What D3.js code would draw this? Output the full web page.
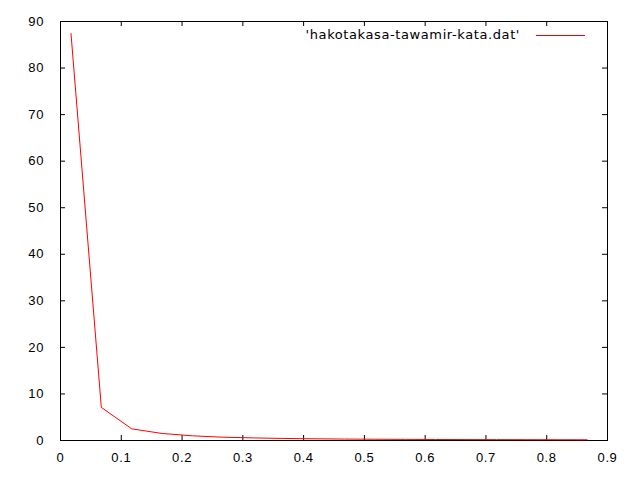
<!DOCTYPE html>
<html>
<head>
<meta charset="utf-8">
<script src="https://cdn.jsdelivr.net/npm/d3@7"></script>
<style>
  body { margin: 0; background: #fff; }
  svg { display: block; font-family: "DejaVu Sans", sans-serif; }
</style>
</head>
<body>
<svg id="svg"></svg>
<script>
// data
let xValues = [0.018, 0.068, 0.118, 0.168, 0.218, 0.268, 0.318, 0.368, 0.418,
               0.468, 0.518, 0.568, 0.618, 0.668, 0.718, 0.768, 0.818, 0.868]
let yValues = [87.4, 7.0, 2.4, 1.4, 0.9, 0.6, 0.45, 0.33, 0.26,
               0.2, 0.16, 0.13, 0.11, 0.09, 0.08, 0.07, 0.06, 0.05]
let xTicks = [0, 0.1, 0.2, 0.3, 0.4, 0.5, 0.6, 0.7, 0.8, 0.9]
let yTicks = [0, 10, 20, 30, 40, 50, 60, 70, 80, 90]
let seriesName = "'hakotakasa-tawamir-kata.dat'"

let width = 640
let height = 480
let margin = {top: 21, left: 60, bottom: 40, right: 33}

let svg = d3.select('#svg').attr('width', width).attr('height', height)

let xScale = d3.scaleLinear().domain([0, 0.9]).range([margin.left, width - margin.right])
let yScale = d3.scaleLinear().domain([0, 90]).range([height - margin.bottom, margin.top])

let tick = 5

// bottom / top axes
svg.append('g')
   .attr('transform', `translate(0,${height - margin.bottom})`)
   .call(d3.axisBottom(xScale).tickValues(xTicks).tickSizeInner(-tick).tickSizeOuter(0).tickPadding(13)
         .tickFormat(d => d === 0 ? '0' : d3.format('.1f')(d)))
svg.append('g')
   .attr('transform', `translate(0,${margin.top})`)
   .call(d3.axisTop(xScale).tickValues(xTicks).tickSizeInner(-tick).tickSizeOuter(0).tickFormat(''))

// left / right axes
svg.append('g')
   .attr('transform', `translate(${margin.left},0)`)
   .call(d3.axisLeft(yScale).tickValues(yTicks).tickSizeInner(-tick).tickSizeOuter(0).tickPadding(16))
svg.append('g')
   .attr('transform', `translate(${width - margin.right},0)`)
   .call(d3.axisRight(yScale).tickValues(yTicks).tickSizeInner(-tick).tickSizeOuter(0).tickFormat(''))

svg.selectAll('.domain').remove()
svg.selectAll('.tick line').attr('stroke', '#000')
svg.selectAll('.tick text').attr('fill', '#000')
   .style('font-size', '13px').style('letter-spacing', '0.6px')

// frame
svg.append('rect')
   .attr('x', margin.left + 0.5).attr('y', margin.top + 0.5)
   .attr('width', width - margin.left - margin.right)
   .attr('height', height - margin.top - margin.bottom)
   .attr('fill', 'none').attr('stroke', '#000')

// series
let pts = xValues.map((x, i) => [x, yValues[i]])
svg.append('path')
   .datum(pts)
   .attr('fill', 'none')
   .attr('stroke', '#ff0000')
   .attr('stroke-width', 1)
   .attr('d', d3.line().x(d => xScale(d[0])).y(d => yScale(d[1])))

// legend
svg.append('text')
   .attr('x', 520).attr('y', 39)
   .attr('text-anchor', 'end')
   .style('font-size', '13px').style('letter-spacing', '0.6px')
   .text(seriesName)
svg.append('line')
   .attr('x1', 536).attr('x2', 585).attr('y1', 35.5).attr('y2', 35.5)
   .attr('stroke', '#ff0000')
</script>
</body>
</html>
